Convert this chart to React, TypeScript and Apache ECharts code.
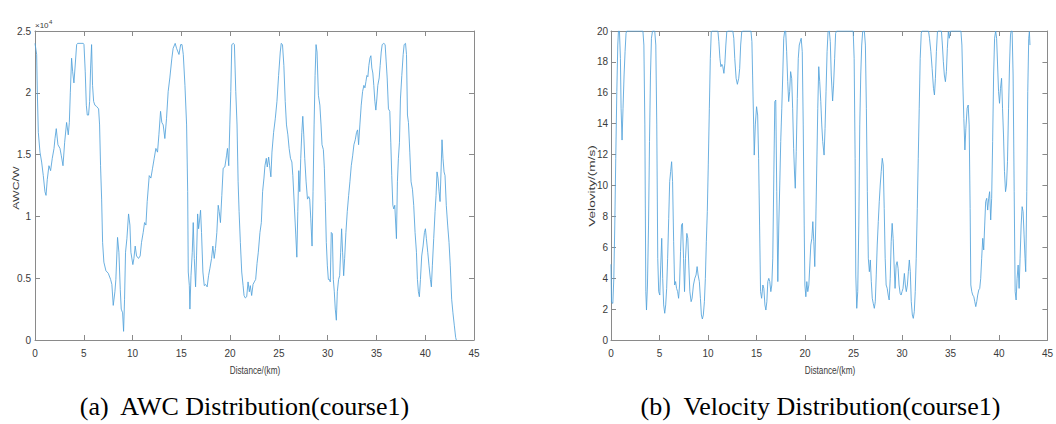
import React, { useEffect, useRef } from "react";
import * as echarts from "echarts";

// ---------- AWC distribution (course1): distance in km, AWC in W ----------
const awcDistance = [
  0.0, 0.07, 0.17, 0.24, 0.34, 0.51, 0.68, 0.85, 1.02, 1.13, 1.26, 1.43, 1.6, 1.77, 1.95, 2.05, 2.18, 2.35, 2.56, 2.7,
  2.87, 3.04, 3.24, 3.41, 3.52, 3.62, 3.75, 3.86, 3.99, 4.1, 4.27, 4.37, 4.95, 5.02, 5.15, 5.26, 5.36, 5.49, 5.6, 5.7,
  5.8, 5.9, 6.01, 6.14, 6.31, 6.52, 6.62, 6.72, 6.83, 6.93, 7.06, 7.27, 7.51, 7.75, 7.88, 8.02, 8.19, 8.29, 8.46, 8.6,
  8.74, 8.84, 8.98, 9.08, 9.18, 9.28, 9.42, 9.59, 9.73, 9.83, 10.03, 10.14, 10.27, 10.41, 10.61, 10.78, 10.92, 11.09, 11.23, 11.37,
  11.5, 11.71, 11.88, 12.05, 12.22, 12.39, 12.56, 12.7, 12.87, 13.0, 13.14, 13.31, 13.48, 13.65, 13.82, 14.03, 14.16, 14.37, 14.51, 14.76,
  14.93, 15.07, 15.2, 15.37, 15.54, 15.65, 15.71, 15.82, 15.88, 15.99, 16.12, 16.22, 16.33, 16.46, 16.56, 16.67, 16.77, 16.87, 16.97, 17.07,
  17.21, 17.35, 17.48, 17.65, 17.79, 17.93, 18.1, 18.23, 18.37, 18.5, 18.64, 18.78, 18.88, 19.01, 19.15, 19.29, 19.46, 19.63, 19.73, 19.86,
  19.97, 20.07, 20.17, 20.34, 20.44, 20.58, 20.71, 20.82, 20.92, 21.05, 21.19, 21.33, 21.43, 21.56, 21.7, 21.84, 21.97, 22.07, 22.21, 22.35,
  22.48, 22.62, 22.76, 22.89, 23.06, 23.2, 23.33, 23.47, 23.57, 23.71, 23.81, 23.95, 24.05, 24.18, 24.29, 24.46, 24.63, 24.8, 24.97, 25.14,
  25.24, 25.37, 25.51, 25.65, 25.78, 25.92, 26.05, 26.19, 26.33, 26.43, 26.6, 26.73, 26.84, 26.94, 27.04, 27.14, 27.24, 27.35, 27.45, 27.55,
  27.65, 27.79, 27.93, 28.06, 28.16, 28.27, 28.4, 28.5, 28.61, 28.71, 28.81, 28.91, 29.05, 29.2, 29.32, 29.42, 29.56, 29.66, 29.76, 29.86,
  29.97, 30.07, 30.17, 30.27, 30.37, 30.48, 30.58, 30.68, 30.78, 30.89, 30.99, 31.12, 31.23, 31.33, 31.43, 31.53, 31.64, 31.74, 31.87, 32.01,
  32.15, 32.28, 32.42, 32.56, 32.69, 32.83, 32.96, 33.07, 33.17, 33.3, 33.44, 33.58, 33.71, 33.82, 33.92, 34.02, 34.12, 34.22, 34.33, 34.43,
  34.53, 34.63, 34.73, 34.84, 34.94, 35.04, 35.14, 35.28, 35.38, 35.49, 35.59, 35.76, 35.89, 36.0, 36.1, 36.23, 36.37, 36.47, 36.57, 36.68,
  36.78, 36.88, 36.98, 37.05, 37.15, 37.25, 37.36, 37.46, 37.6, 37.74, 37.84, 37.98, 38.08, 38.18, 38.28, 38.42, 38.55, 38.69, 38.82, 38.96,
  39.1, 39.2, 39.3, 39.4, 39.51, 39.64, 39.78, 39.92, 40.02, 40.12, 40.26, 40.39, 40.53, 40.63, 40.73, 40.87, 41.01, 41.11, 41.21, 41.31,
  41.42, 41.52, 41.62, 41.72, 41.82, 41.93, 42.03, 42.16, 42.3, 42.44, 42.57, 42.71, 42.84, 42.98, 43.12, 43.19,
];
const awcValue = [
  24000, 24000, 23100, 20000, 16800, 15200, 14400, 13300, 12000, 11700, 13000, 14100, 13700, 14700, 15500, 16300, 17100, 15800, 15500, 14900,
  14100, 16000, 17600, 16600, 17600, 20000, 22800, 21700, 20800, 22000, 23900, 24000, 24000, 23900, 21700, 19000, 18200, 18200, 19300, 22000,
  23900, 20600, 19300, 19000, 18900, 18700, 17400, 14100, 11400, 7900, 6300, 5600, 5400, 4900, 4500, 2800, 3900, 4900, 8300, 7100,
  4100, 2500, 2200, 700, 3300, 7100, 8200, 10200, 9300, 7100, 6100, 6600, 7600, 6800, 6600, 6800, 7900, 8700, 9500, 9300,
  11200, 13300, 13100, 13900, 14700, 15500, 15200, 16600, 18500, 17600, 17400, 16300, 17900, 20100, 21200, 22800, 23600, 24000, 23600, 23100,
  23900, 23900, 23100, 20600, 17400, 12000, 5500, 4400, 2500, 5200, 7100, 9500, 6600, 4300, 6800, 10200, 9000, 9700, 10500, 8700,
  5500, 4400, 4500, 4300, 5200, 5800, 6600, 7600, 6600, 7400, 8700, 10900, 10400, 9500, 11700, 13900, 14000, 14900, 15500, 14100,
  17400, 20100, 23900, 24000, 23900, 20100, 17400, 12800, 10400, 7900, 5500, 4400, 3600, 3400, 3500, 4700, 3900, 4400, 3600, 4500,
  4700, 4900, 6200, 7100, 8700, 9500, 12000, 13100, 14100, 14700, 14000, 14800, 14100, 13200, 15200, 16800, 17900, 19300, 21400, 23300,
  24000, 23900, 22200, 19300, 17400, 16600, 15500, 14700, 14400, 13300, 10600, 8500, 6700, 10400, 13700, 12000, 14700, 16800, 18100, 16600,
  14700, 12800, 11400, 11600, 11400, 9800, 7600, 12000, 17400, 21400, 23900, 23300, 19800, 19000, 17400, 15800, 15400, 13900, 11200, 7900,
  6000, 4900, 4900, 4700, 8700, 8600, 4900, 3900, 2500, 1600, 3900, 4900, 5200, 7100, 9000, 7100, 5200, 6600, 8700, 10400,
  11700, 12800, 14100, 14900, 15800, 16200, 16800, 17000, 15800, 17400, 19000, 20100, 20600, 20400, 20900, 21400, 21300, 22200, 22800, 23000,
  22000, 21600, 20600, 19300, 18600, 19500, 20600, 21200, 22200, 23300, 23900, 24000, 23900, 22500, 21200, 18700, 18500, 16000, 13300, 10900,
  10600, 10900, 9300, 8200, 12800, 14700, 16000, 19500, 21400, 23100, 23900, 24000, 23100, 18200, 17600, 15200, 12800, 12200, 10900, 8700,
  7100, 4900, 3900, 3500, 4900, 6800, 7600, 8700, 9000, 8200, 7100, 6000, 4900, 4300, 6000, 8200, 10400, 11700, 13600, 13100,
  12000, 11200, 13600, 16200, 14700, 13600, 13300, 10900, 9300, 7900, 6000, 3300, 2200, 1200, 200, 0,
];

// ---------- Velocity distribution (course1): distance in km, velocity in m/s ----------
const velDistance = [
  0.0, 0.05, 0.12, 0.19, 0.29, 0.39, 0.49, 0.6, 0.7, 0.77, 0.87, 0.97, 1.04, 1.14, 1.24, 1.35, 1.45, 1.55, 1.62, 3.29,
  3.39, 3.49, 3.59, 3.66, 3.76, 3.87, 3.97, 4.07, 4.17, 4.28, 4.51, 4.62, 4.72, 4.82, 4.92, 5.03, 5.13, 5.23, 5.33, 5.43,
  5.54, 5.64, 5.74, 5.84, 5.95, 6.05, 6.15, 6.25, 6.35, 6.46, 6.56, 6.66, 6.76, 6.87, 6.97, 7.07, 7.17, 7.27, 7.37, 7.48,
  7.58, 7.68, 7.82, 7.92, 8.02, 8.13, 8.26, 8.36, 8.5, 8.64, 8.77, 8.88, 8.98, 9.11, 9.22, 9.32, 9.42, 9.52, 9.63, 9.73,
  9.83, 9.93, 10.03, 10.14, 10.24, 10.34, 10.41, 11.02, 11.12, 11.23, 11.33, 11.43, 11.53, 11.64, 11.74, 11.84, 11.94, 12.08, 12.56, 12.66,
  12.76, 12.9, 13.03, 13.17, 13.27, 13.37, 13.48, 13.61, 14.43, 14.53, 14.6, 14.71, 14.77, 14.88, 15.01, 15.12, 15.22, 15.32, 15.42, 15.53,
  15.66, 15.76, 15.87, 15.97, 16.07, 16.17, 16.27, 16.37, 16.48, 16.58, 16.68, 16.79, 16.89, 16.99, 17.09, 17.2, 17.3, 17.4, 17.5, 17.61,
  17.71, 17.81, 17.91, 18.01, 18.11, 18.22, 18.32, 18.42, 18.52, 18.63, 18.73, 18.83, 18.93, 19.0, 19.1, 19.21, 19.31, 19.41, 19.51, 19.61,
  19.72, 19.82, 19.92, 19.99, 20.09, 20.19, 20.29, 20.4, 20.5, 20.6, 20.71, 20.81, 20.91, 21.01, 21.11, 21.22, 21.32, 21.42, 21.52, 21.63,
  21.73, 21.83, 21.97, 22.07, 22.17, 22.28, 22.38, 22.51, 22.61, 22.71, 22.85, 22.95, 23.06, 23.16, 23.26, 24.97, 25.07, 25.17, 25.24, 25.34,
  25.44, 25.55, 25.65, 25.75, 25.85, 25.95, 26.12, 26.23, 26.33, 26.43, 26.53, 26.64, 26.74, 26.84, 26.94, 27.04, 27.15, 27.25, 27.35, 27.45,
  27.56, 27.66, 27.76, 27.86, 27.97, 28.07, 28.17, 28.27, 28.37, 28.48, 28.58, 28.68, 28.79, 28.89, 28.99, 29.09, 29.19, 29.29, 29.4, 29.5,
  29.6, 29.7, 29.81, 29.91, 30.01, 30.11, 30.25, 30.35, 30.45, 30.56, 30.66, 30.76, 30.86, 30.96, 31.07, 31.17, 31.27, 31.37, 31.47, 31.58,
  31.68, 31.78, 31.88, 31.99, 32.05, 32.74, 32.84, 32.98, 33.11, 33.25, 33.35, 33.45, 33.55, 33.66, 33.73, 34.07, 34.17, 34.27, 34.37, 34.48,
  34.58, 34.68, 34.78, 34.88, 34.99, 36.08, 36.18, 36.28, 36.38, 36.49, 36.59, 36.72, 36.83, 36.93, 37.03, 37.1, 37.2, 37.3, 37.41, 37.51,
  37.61, 37.71, 37.81, 37.92, 38.02, 38.12, 38.22, 38.33, 38.43, 38.53, 38.63, 38.74, 38.84, 38.94, 39.04, 39.15, 39.25, 39.35, 39.45, 39.55,
  39.66, 39.76, 39.86, 39.96, 40.06, 40.16, 40.27, 40.37, 40.47, 40.57, 40.68, 40.78, 40.88, 40.99, 41.09, 41.19, 41.26, 41.36, 41.46, 41.57,
  41.67, 41.77, 41.87, 41.98, 42.08, 42.18, 42.29, 42.39, 42.49, 42.59, 42.69, 42.76, 42.87, 42.97, 43.07, 43.14, 43.2,
];
const velValue = [
  4.9, 2.48, 2.39, 2.37, 3.99, 7.44, 11.76, 16.07, 19.09, 20, 20, 18.23, 15.0, 12.94, 15.0, 17.15, 18.66, 19.85, 20, 20,
  19.09, 13.92, 3.13, 1.94, 3.56, 7.44, 12.84, 17.15, 19.53, 20, 20, 19.09, 13.92, 5.29, 3.13, 2.91, 4.85, 6.58, 3.99, 2.27,
  1.73, 2.27, 3.34, 5.29, 7.87, 10.25, 10.9, 11.54, 10.25, 6.36, 3.56, 3.78, 3.34, 3.13, 2.7, 3.56, 5.72, 7.44, 7.55, 5.29,
  3.13, 5.29, 6.9, 6.58, 4.85, 3.13, 2.48, 2.7, 3.56, 3.99, 4.21, 4.75, 4.21, 3.78, 2.7, 1.62, 1.36, 1.62, 2.48, 3.99,
  6.36, 8.31, 11.33, 15.0, 18.23, 19.96, 20, 20, 19.31, 18.23, 17.69, 17.84, 17.69, 17.26, 17.91, 19.09, 19.96, 20, 20, 19.53,
  18.23, 16.94, 16.55, 16.94, 17.58, 19.09, 19.96, 20, 20, 19.31, 17.15, 13.92, 11.97, 13.92, 15.1, 14.56, 11.76, 7.44, 3.13, 2.7,
  3.56, 3.34, 2.27, 1.94, 2.48, 3.78, 3.99, 3.78, 3.13, 3.56, 5.29, 10.68, 15.43, 15.53, 9.6, 3.78, 7.44, 10.03, 12.84, 15.0,
  17.15, 19.53, 20, 20, 18.66, 16.72, 15.43, 16.07, 17.37, 16.94, 15.0, 12.41, 10.68, 9.82, 12.19, 15.64, 18.23, 19.09, 19.31, 19.53,
  18.66, 13.92, 7.44, 3.56, 2.8, 3.78, 3.13, 3.56, 4.85, 6.15, 6.58, 7.66, 6.36, 4.75, 7.44, 11.33, 15.0, 17.69, 16.72, 15.43,
  13.92, 12.84, 11.97, 13.7, 16.07, 18.66, 19.96, 20, 19.31, 17.15, 15.47, 16.5, 18.23, 19.85, 20, 20, 18.23, 11.76, 4.21, 2.05,
  3.13, 7.44, 13.92, 17.15, 19.09, 19.96, 20, 19.09, 15.0, 9.6, 5.29, 4.42, 5.18, 3.78, 2.7, 2.37, 2.05, 2.48, 4.21, 6.15,
  7.66, 8.95, 10.03, 10.9, 11.76, 11.33, 8.52, 5.29, 3.56, 3.34, 2.91, 2.59, 3.99, 6.36, 7.55, 6.58, 4.85, 3.34, 4.85, 5.07,
  4.64, 3.56, 3.02, 2.91, 3.13, 3.34, 4.31, 3.56, 3.13, 3.56, 4.42, 5.18, 4.42, 2.48, 1.62, 1.4, 1.83, 3.13, 5.29, 8.52,
  11.76, 15.0, 18.23, 19.85, 20, 20, 19.53, 18.66, 17.58, 16.29, 15.86, 16.94, 18.66, 19.96, 20, 20, 19.09, 18.01, 17.15, 16.72,
  17.37, 18.88, 19.96, 19.53, 20, 20, 19.09, 16.5, 14.35, 12.3, 13.7, 15.0, 15.21, 13.92, 8.52, 3.56, 3.13, 2.91, 2.8, 2.48,
  2.16, 2.48, 2.91, 3.24, 3.34, 3.99, 5.29, 6.58, 5.83, 7.44, 8.95, 9.17, 8.41, 9.17, 9.6, 7.77, 9.17, 12.84, 17.15, 19.53,
  20, 19.53, 17.8, 16.07, 15.32, 16.29, 16.94, 15.0, 13.27, 10.9, 9.6, 10.03, 11.54, 15.0, 17.8, 19.74, 20, 20, 17.15, 9.6,
  3.13, 2.59, 3.99, 4.85, 3.34, 5.29, 7.44, 8.63, 8.31, 6.8, 5.29, 4.42, 9.6, 16.07, 19.53, 19.96, 19.09,
];

const xTickStep = 5;
const awcTickStep = 5000;
const velTickStep = 2;
const awcName = "AWC/W";
const velName = "Velovity/(m/s)";
const xName = "Distance/(km)";
const captionA = "(a)  AWC Distribution(course1)";
const captionB = "(b)  Velocity Distribution(course1)";

const NARROW = "'Liberation Sans Narrow', 'Arial Narrow', 'Liberation Sans', Arial, sans-serif";
const SANS = "'Liberation Sans', Arial, sans-serif";
const SERIF = "'Liberation Serif', 'Times New Roman', serif";
const FRAME = "#8a8a8a";
const LABEL = "#3a3a3a";
const LINE = "#52a2da";

function xAxes(gridIndex: number) {
  const common = {
    gridIndex,
    type: "value" as const,
    min: 0,
    max: 45,
    interval: xTickStep,
    splitLine: { show: false },
    axisLine: { show: true, onZero: false, lineStyle: { color: FRAME, width: 1 } },
    axisTick: { show: true, inside: true, length: 5, lineStyle: { color: FRAME, width: 1 } },
  };
  return [
    { ...common, position: "bottom", axisLabel: { color: LABEL, fontSize: 10, fontFamily: NARROW, margin: 8 } },
    { ...common, position: "top", axisLabel: { show: false } },
  ];
}

function yAxes(gridIndex: number, max: number, interval: number, fmt: (v: number) => string, margin: number) {
  const common = {
    gridIndex,
    type: "value" as const,
    min: 0,
    max,
    interval,
    splitLine: { show: false },
    axisLine: { show: true, onZero: false, lineStyle: { color: FRAME, width: 1 } },
    axisTick: { show: true, inside: true, length: 5, lineStyle: { color: FRAME, width: 1 } },
  };
  return [
    { ...common, position: "left", axisLabel: { color: LABEL, fontSize: 10, fontFamily: NARROW, margin, formatter: fmt } },
    { ...common, position: "right", axisLabel: { show: false } },
  ];
}

export default function App() {
  const ref = useRef<HTMLDivElement>(null);

  useEffect(() => {
    if (!ref.current) return;
    const chart = echarts.init(ref.current, undefined, { renderer: "svg" });

    const awcData = awcDistance.map((d, i) => [d, awcValue[i]]);
    const velData = velDistance.map((d, i) => [d, velValue[i]]);

    chart.setOption({
      animation: false,
      backgroundColor: "#ffffff",
      grid: [
        { left: 35, top: 31, width: 439, height: 309 },
        { left: 611, top: 31, width: 440, height: 309 },
      ],
      xAxis: [...xAxes(0), ...xAxes(1)],
      yAxis: [
        ...yAxes(0, 25000, awcTickStep, (v: number) => String(v / 10000), 4),
        ...yAxes(1, 20, velTickStep, (v: number) => String(v), 3),
      ],
      series: [
        {
          type: "line",
          xAxisIndex: 0,
          yAxisIndex: 0,
          data: awcData,
          showSymbol: false,
          symbol: "none",
          lineStyle: { color: LINE, width: 0.85 },
        },
        {
          type: "line",
          xAxisIndex: 2,
          yAxisIndex: 2,
          data: velData,
          showSymbol: false,
          symbol: "none",
          lineStyle: { color: LINE, width: 0.85 },
        },
      ],
      graphic: [
        { type: "text", x: 35, y: 25.5, style: { text: "×10", fontSize: 8, fontFamily: SANS, fill: LABEL, align: "left", verticalAlign: "middle" } },
        { type: "text", x: 49, y: 22, style: { text: "4", fontSize: 6, fontFamily: SANS, fill: LABEL, align: "left", verticalAlign: "middle" } },
        {
          type: "text", x: 15.5, y: 188, rotation: Math.PI / 2, scaleX: 1.45,
          style: { text: awcName, fontSize: 8.5, fontFamily: SANS, fill: LABEL, align: "center", verticalAlign: "middle" },
        },
        {
          type: "text", x: 592, y: 186, rotation: Math.PI / 2, scaleX: 1.6,
          style: { text: velName, fontSize: 8.5, fontFamily: SANS, fill: LABEL, align: "center", verticalAlign: "middle" },
        },
        {
          type: "text", x: 255, y: 370, scaleX: 0.78,
          style: { text: xName, fontSize: 10.5, fontFamily: SANS, fill: LABEL, align: "center", verticalAlign: "middle" },
        },
        {
          type: "text", x: 830, y: 370, scaleX: 0.78,
          style: { text: xName, fontSize: 10.5, fontFamily: SANS, fill: LABEL, align: "center", verticalAlign: "middle" },
        },
        {
          type: "text", x: 244.5, y: 406,
          style: { text: captionA, fontSize: 26, fontFamily: SERIF, fill: "#000", align: "center", verticalAlign: "middle" },
        },
        {
          type: "text", x: 820.5, y: 406,
          style: { text: captionB, fontSize: 26, fontFamily: SERIF, fill: "#000", align: "center", verticalAlign: "middle" },
        },
      ],
    });

    return () => chart.dispose();
  }, []);

  return (
    <div
      ref={ref}
      style={{ position: "fixed", left: 0, top: 0, width: 1056, height: 424, background: "#fff" }}
    />
  );
}
